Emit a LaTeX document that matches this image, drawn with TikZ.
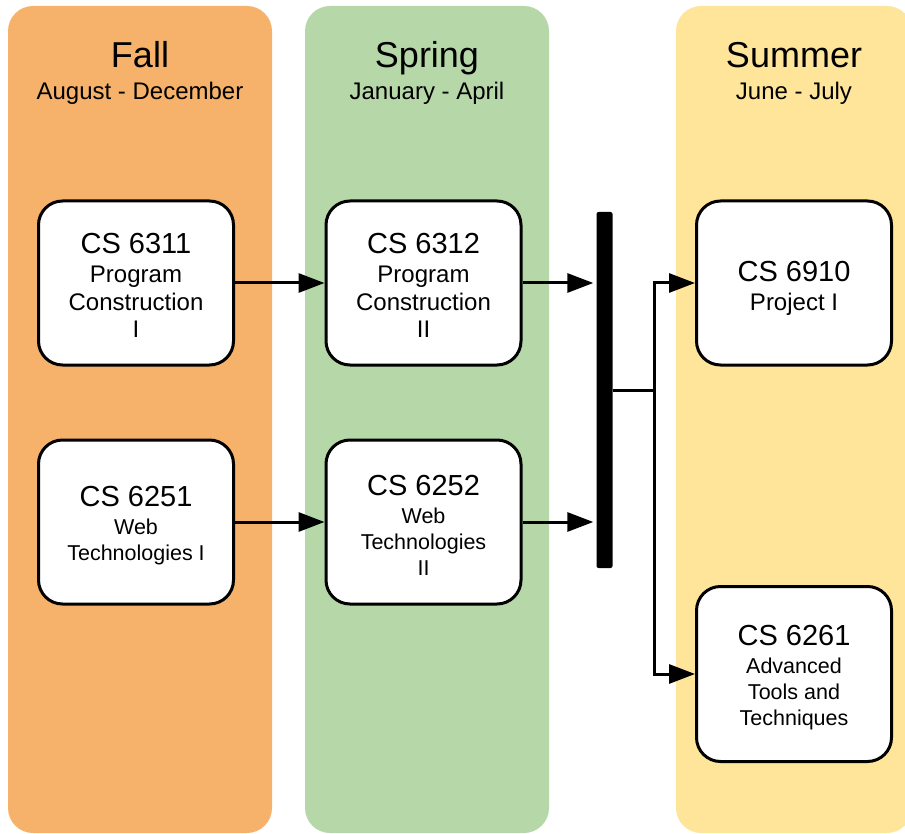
\documentclass[tikz,border=0pt]{standalone}
\usepackage{fontspec}
\setmainfont{Liberation Sans}
\usetikzlibrary{arrows.meta}

\definecolor{fallorange}{HTML}{F6B26B}
\definecolor{springgreen}{HTML}{B6D7A8}
\definecolor{summeryellow}{HTML}{FFE599}

\newcommand{\courseskip}{2pt}
\newcommand{\coursetop}{25pt}
\newcommand{\course}[2]{\rule{0pt}{\coursetop}{\fontsize{29}{30}\selectfont CS #1}\\[\courseskip]#2}

\begin{document}
\begin{tikzpicture}[x=1pt, y=-1pt, >={Triangle[length=26pt,width=19pt]},
    course/.style={draw, line width=3pt, fill=white, rounded corners=24pt,
      minimum width=195pt, minimum height=164pt, inner sep=0pt, align=center,
      font=\fontsize{24}{27.5}\selectfont},
    smallcourse/.style={course, font=\fontsize{21.5}{26}\selectfont,
      /utils/exec={\def\courseskip{2pt}\def\coursetop{27pt}}},
    termname/.style={anchor=base, font=\fontsize{36}{40}\selectfont},
    termdates/.style={anchor=base, font=\fontsize{24}{28}\selectfont},
    flow/.style={->, line width=3pt}]
        \useasboundingbox (0,0) rectangle (905,834);

        % Semestri
        \fill[fallorange, rounded corners=25pt] (8,6) rectangle (272,833);
        \fill[springgreen, rounded corners=25pt] (305,6) rectangle (549,833);
        \fill[summeryellow, rounded corners=25pt] (676,6) rectangle (912,833);

        \node[termname] (fall) at (140,68) {Fall};
        \node[termdates] (falldates) at (140,100) {August - December};
        \node[termname] (spring) at (427,68) {Spring};
        \node[termdates] (springdates) at (427,100) {January - April};
        \node[termname] (summer) at (794,68) {Summer};
        \node[termdates] (summerdates) at (794,100) {June - July};

        % Corsi
        \node[course] (c6311) at (136,283) {\course{6311}{Program\\Construction\\I}};
        \node[smallcourse] (c6251) at (136,522) {\course{6251}{Web\\Technologies I}};
        \node[course] (c6312) at (423.5,283) {\course{6312}{Program\\Construction\\II}};
        \node[smallcourse] (c6252) at (423.5,522) {\course{6252}{Web\\Technologies\\II}};
        \node[course, /utils/exec={\def\coursetop{31pt}}] (c6910)
            at (794,283) {\course{6910}{Project I}};
        \node[smallcourse, minimum height=175pt] (c6261) at (794,674)
            {\course{6261}{Advanced\\Tools and\\Techniques}};

        % Barra di sincronizzazione
        \node[fill, rounded corners=2pt, minimum width=16pt, minimum height=356pt,
            inner sep=0pt] (bar) at (604.5,390) {};
        \coordinate (split) at (654,390);

        % Frecce
        \draw[flow] (c6311) -- (c6312);
        \draw[flow] (c6251) -- (c6252);
        \draw[flow, shorten >=3pt] (c6312.east) -- (bar.west |- c6312.east);
        \draw[flow, shorten >=3pt] (c6252.east) -- (bar.west |- c6252.east);
        \draw[line width=3pt] (bar.east) -- (split);
        \draw[flow] (split) |- (c6910.west);
        \draw[flow] (split) |- (c6261.west);
    \end{tikzpicture}
\end{document}
